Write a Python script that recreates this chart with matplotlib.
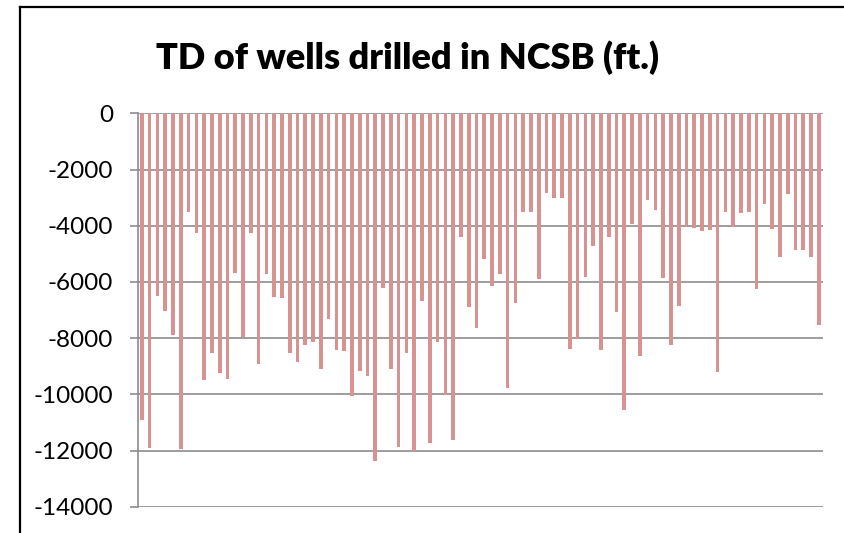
import matplotlib.pyplot as plt
from matplotlib.lines import Line2D

# total depth (ft.) of each well, left to right
td_ft = [
    -10900, -11900, -6500, -7050, -7900, -11950, -3530, -4260, -9500, -8540,
    -9230, -9470, -5700, -7950, -4250, -8920, -5720, -6550, -6580, -8540,
    -8850, -8260, -8130, -9090, -7310, -8420, -8450, -10070, -9160, -9350,
    -12370, -6200, -9110, -11890, -8540, -12000, -6670, -11720, -8150, -10010,
    -11630, -4390, -6900, -7650, -5180, -6150, -5730, -9780, -6760, -3520,
    -3500, -5880, -2850, -3000, -3000, -8400, -8020, -5810, -4710, -8410,
    -4400, -7070, -10560, -3950, -8640, -3100, -3450, -5870, -8240, -6860,
    -4020, -4090, -4180, -4150, -9220, -3530, -4060, -3560, -3510, -6250,
    -3240, -4120, -5120, -2880, -4880, -4860, -5120, -7530,
]
wells = list(range(1, len(td_ft) + 1))
yticks = [0, -2000, -4000, -6000, -8000, -10000, -12000, -14000]

plt.rcParams['font.family'] = ['Lato', 'DejaVu Sans']

fig = plt.figure(figsize=(8.45, 5.33), dpi=100)
ax = fig.add_axes([138 / 845, 1 - 506.7 / 533, (822.7 - 138) / 845, (506.7 - 113.3) / 533])

ax.bar(wells, td_ft, width=0.47, color='#D79391', edgecolor='none', zorder=3)

ax.set_ylim(-14000, 0)
ax.set_xlim(0.5, len(wells) + 0.5)
ax.set_yticks(yticks)
ax.set_yticklabels([str(v) for v in yticks], fontsize=17.5)
ax.tick_params(axis='y', length=6, width=1.2, color='#8c8c8c', direction='out', pad=12)
ax.tick_params(axis='x', length=0, labelbottom=False)
ax.grid(axis='y', color='#8c8c8c', linewidth=1.2, zorder=1)

for side in ['top', 'right', 'bottom']:
    ax.spines[side].set_visible(False)
ax.spines['left'].set_color('#8c8c8c')
ax.spines['left'].set_linewidth(1.2)

fig.text(408 / 845, 1 - 58 / 533, 'TD of wells drilled in NCSB (ft.)',
         ha='center', va='center', fontsize=26, fontweight='heavy')

# chart border: only top and left edges are inside the picture
top = 1 - 7 / 533
left = 20 / 845
fig.add_artist(Line2D([left, 1.0], [top, top], transform=fig.transFigure,
                      color='black', linewidth=1.6))
fig.add_artist(Line2D([left, left], [0.0, top], transform=fig.transFigure,
                      color='black', linewidth=1.6))

fig.savefig('out.png', dpi=100)
